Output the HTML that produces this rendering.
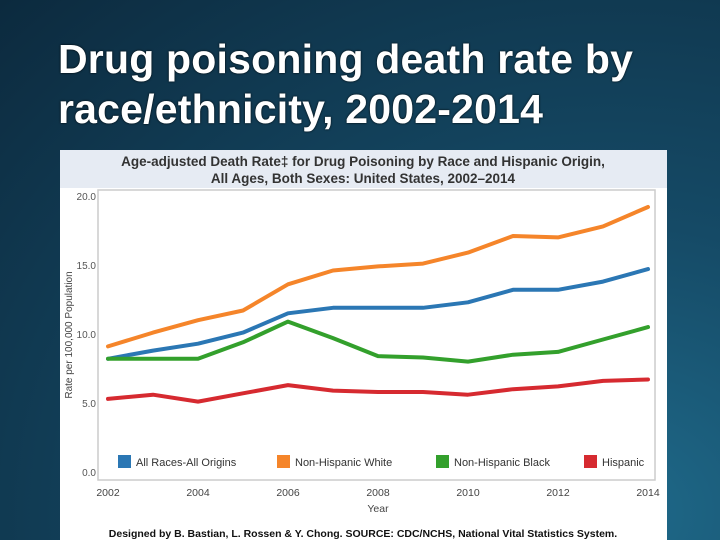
<!DOCTYPE html>
<html><head><meta charset="utf-8"><style>
html,body{margin:0;width:720px;height:540px;overflow:hidden}
body{background:radial-gradient(ellipse at 85% 95%,#1f6a8a 0%,#154a66 40%,#0c2a3e 100%);font-family:"Liberation Sans",sans-serif;position:relative}
#title{position:absolute;left:58px;top:34px;color:#fff;font-weight:bold;font-size:41px;line-height:50px;letter-spacing:0.2px;text-shadow:0 0 2px #000}
#card{position:absolute;left:60px;top:150px;width:607px;height:390px;background:#fff}
</style></head><body>
<div id="title">Drug poisoning death rate by<br>race/ethnicity, 2002-2014</div>
<div id="card">
<svg id="chart" width="607" height="390"></svg>
</div>
<script>
const years=[2002,2003,2004,2005,2006,2007,2008,2009,2010,2011,2012,2013,2014];
const allRaces=[8.2,8.8,9.3,10.1,11.5,11.9,11.9,11.9,12.3,13.2,13.2,13.8,14.7];
const nhWhite=[9.1,10.1,11.0,11.7,13.6,14.6,14.9,15.1,15.9,17.1,17.0,17.8,19.2];
const nhBlack=[8.2,8.2,8.2,9.4,10.9,9.7,8.4,8.3,8.0,8.5,8.7,9.6,10.5];
const hispanic=[5.3,5.6,5.1,5.7,6.3,5.9,5.8,5.8,5.6,6.0,6.2,6.6,6.7];
const yTicks=[0,5,10,15,20];
const xTicks=[2002,2004,2006,2008,2010,2012,2014];
const seriesNames=["All Races-All Origins","Non-Hispanic White","Non-Hispanic Black","Hispanic"];
const colors=["#2b77b4","#f5852a","#33a02c","#d62a30"];
const svg=document.getElementById('chart');
const NS='http://www.w3.org/2000/svg';
const ox=60,oy=150;
const X=v=>108-ox+(v-2002)*(540/12);
const Y=v=>472-oy-v*13.8;
function mk(t,a,txt){const e=document.createElementNS(NS,t);for(const k in a)e.setAttribute(k,a[k]);if(txt!==undefined)e.textContent=txt;svg.appendChild(e);return e;}
let e;
e=mk('rect',{x:0,y:0,width:607,height:38,fill:'#e6ebf3'});

e=mk('text',{x:303,y:16,'text-anchor':'middle','font-size':'13.5','font-weight':'bold',fill:'#333'},'Age-adjusted Death Rate\u2021 for Drug Poisoning by Race and Hispanic Origin,');

e=mk('text',{x:303,y:33,'text-anchor':'middle','font-size':'13.5','font-weight':'bold',fill:'#333'},'All Ages, Both Sexes: United States, 2002\u20132014');

e=mk('rect',{x:38,y:40,width:557,height:290,fill:'none',stroke:'#ccc','stroke-width':1.5});

yTicks.forEach(v=>{e=mk('text',{x:36,y:Y(v)+4,'text-anchor':'end','font-size':'10',fill:'#555'},v.toFixed(1));
});
xTicks.forEach(v=>{e=mk('text',{x:X(v),y:346,'text-anchor':'middle','font-size':'10.5',fill:'#444'},String(v));
});
e=mk('text',{x:318,y:362,'text-anchor':'middle','font-size':'10.5',fill:'#444'},'Year');

e=mk('text',{x:0,y:0,'text-anchor':'middle','font-size':'10',fill:'#444',transform:'translate(12,185) rotate(-90)'},'Rate per 100,000 Population');

[allRaces,nhWhite,nhBlack,hispanic].forEach((s,i)=>{
 const d=s.map((v,j)=>(j?'L':'M')+X(years[j]).toFixed(1)+' '+Y(v).toFixed(1)).join(' ');
 e=mk('path',{d:d,fill:'none',stroke:colors[i],'stroke-width':4,'stroke-linejoin':'round','stroke-linecap':'round'});
 
});
const lx=[58,217,376,524];
seriesNames.forEach((n,i)=>{
 e=mk('rect',{x:lx[i],y:305,width:13,height:13,fill:colors[i]});
 
 e=mk('text',{x:lx[i]+18,y:316,'font-size':'11',fill:'#333'},n);
 
});
e=mk('text',{x:303,y:387,'text-anchor':'middle','font-size':'10.5','font-weight':'bold',fill:'#111'},'Designed by B. Bastian, L. Rossen & Y. Chong.  SOURCE: CDC/NCHS, National Vital Statistics System.');

</script>
</body></html>
